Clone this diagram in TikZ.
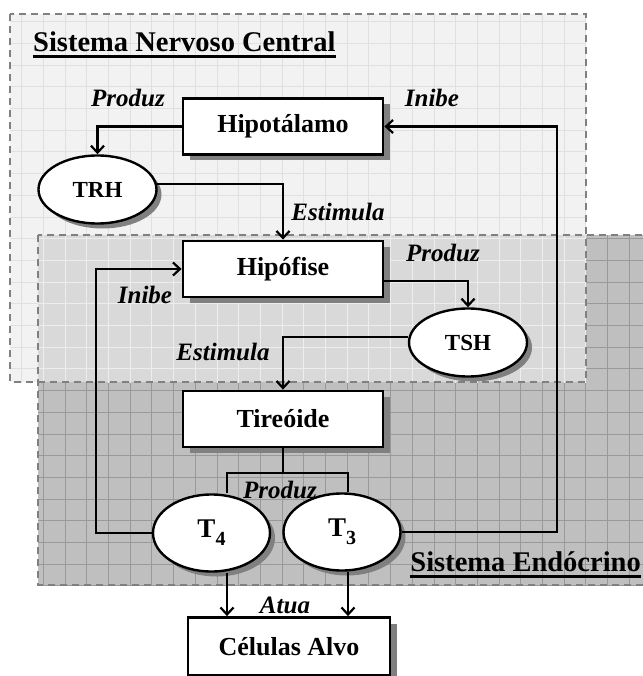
\documentclass[tikz,border=0pt]{standalone}
\usepackage{fontspec}
\setmainfont{Liberation Serif}
\usetikzlibrary{arrows.meta,shapes.geometric,shadows}

\definecolor{sncfill}{gray}{0.95}
\definecolor{sncgrid}{gray}{0.88}
\definecolor{endofill}{gray}{0.75}
\definecolor{endogrid}{gray}{0.6}
\definecolor{ovlfill}{gray}{0.85}
\definecolor{ovlgrid}{gray}{0.93}
\definecolor{framegray}{gray}{0.5}

\newcommand{\hsub}[1]{\raisebox{-8pt}{\fontsize{20}{20}\selectfont #1}}

\begin{document}
\begin{tikzpicture}[x=1pt,y=-1pt]
            \tikzstyle{organ}=[rectangle,draw,line width=2.8pt,fill=white,minimum width=200pt,minimum height=56pt,font=\fontsize{26}{30}\selectfont\bfseries,drop shadow={shadow xshift=7pt,shadow yshift=-6pt,fill=black!50,opacity=1}];
            \tikzstyle{horm}=[ellipse,draw,line width=2.4pt,fill=white,minimum width=118pt,minimum height=68pt,inner sep=0,font=\fontsize{23}{26}\selectfont\bfseries,drop shadow={shadow xshift=5pt,shadow yshift=-5pt,fill=black!50,opacity=1}];
            \tikzstyle{thorm}=[horm,minimum width=117pt,minimum height=77pt,font=\fontsize{27}{30}\selectfont\bfseries];
            \tikzstyle{lbl}=[inner sep=0,font=\fontsize{25}{30}\selectfont\bfseries\itshape];
            \tikzstyle{title}=[inner sep=0,font=\fontsize{28.5}{32}\selectfont\bfseries];
            \tikzstyle{link}=[line width=2.2pt];
            \tikzstyle{flow}=[link,-{Straight Barb[length=7pt,width=13pt,line width=2.2pt]}];
            \tikzstyle{regionline}=[framegray,line width=2.4pt,dash pattern=on 7pt off 5pt];
            \useasboundingbox (0,0) rectangle (642,676);
            \fill[sncfill] (10,14) rectangle (586,382);
            \begin{scope}
                \clip (10,14) rectangle (586,382);
                \draw[sncgrid,step=21.7pt,line width=1pt] (0,700) grid (660,0);
            \end{scope}
            \fill[endofill] (38,235) rectangle (650,585);
            \begin{scope}
                \clip (38,235) rectangle (650,585);
                \draw[endogrid,step=21.7pt,line width=1pt] (0,700) grid (660,0);
            \end{scope}
            \fill[ovlfill] (38,235) rectangle (586,382);
            \begin{scope}
                \clip (38,235) rectangle (586,382);
                \draw[ovlgrid,step=21.7pt,line width=1pt] (0,700) grid (660,0);
            \end{scope}
            \draw[regionline] (10,14) rectangle (586,382);
            \draw[regionline] (38,235) rectangle (650,585);
            \node[title,anchor=base west] (snc) at (33,52) {Sistema Nervoso Central};
            \draw[line width=3pt] ([yshift=-5pt]snc.base west) -- ([yshift=-5pt]snc.base east);
            \node[title,anchor=base east] (endo) at (641,571) {Sistema Endócrino};
            \draw[line width=3pt] ([yshift=-5pt]endo.base west) -- ([yshift=-5pt]endo.base east);
            \node[organ] (hipot) at (283,126.5) {Hipotálamo};
            \node[organ] (hipof) at (283,269) {Hipófise};
            \node[organ] (tireo) at (283,419) {Tireóide};
            \node[organ,minimum width=202pt,minimum height=58pt] (celulas) at (289,646.5) {Células Alvo};
            \node[horm] (trh) at (97.5,189.5) {TRH};
            \node[horm] (tsh) at (468,342.5) {TSH};
            \node[thorm] (t4) at (211.5,533) {T\hsub{4}};
            \node[thorm] (t3) at (342,532) {T\hsub{3}};
            \node[lbl] (produz1) at (128,98) {Produz};
            \node[lbl] (inibe1) at (432,98) {Inibe};
            \node[lbl] (estimula1) at (338,212) {Estimula};
            \node[lbl] (produz2) at (443,253) {Produz};
            \node[lbl] (inibe2) at (145,295) {Inibe};
            \node[lbl] (estimula2) at (223,352) {Estimula};
            \node[lbl] (produz3) at (280,490) {Produz};
            \node[lbl] (atua) at (285,605) {Atua};
            \coordinate (forkL) at (227,473);
            \coordinate (forkR) at (348,473);
            \draw[flow] (hipot.west) -| (trh.north);
            \draw[flow] (trh.5) -| (hipof.north);
            \draw[flow] ([yshift=-12pt]hipof.east) -| (tsh.north);
            \draw[flow] (tsh.175) -| (tireo.north);
            \draw[link] (tireo.south) -- (tireo.south |- forkL);
            \draw[link] (t4.north -| forkL) -- (forkL) -- (forkR) -- (t3.north -| forkR);
            \draw[flow] (t4.west) -- ++(-56,0) |- (hipof.west);
            \draw[flow] (t3.east) -- ++(155,0) |- (hipot.east);
            \draw[flow] (forkL |- t4.south) -- (forkL |- celulas.north);
            \draw[flow] (forkR |- t3.south) -- (forkR |- celulas.north);
\end{tikzpicture}
\end{document}
